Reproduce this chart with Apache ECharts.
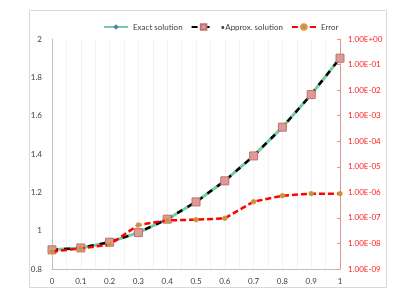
<!DOCTYPE html>
<html><head><meta charset="utf-8">
<script src="https://cdn.jsdelivr.net/npm/echarts@6/dist/echarts.min.js"></script>
<style>html,body{margin:0;padding:0;background:#fff}#c{width:406px;height:294px}</style>
</head><body><div id="c"></div>
<script>
var xValues = [0, 0.1, 0.2, 0.3, 0.4, 0.5, 0.6, 0.7, 0.8, 0.9, 1];
var exactValues = [0.90, 0.91, 0.94, 0.99, 1.06, 1.15, 1.26, 1.39, 1.54, 1.71, 1.90];
var approxValues = [0.90, 0.91, 0.94, 0.99, 1.06, 1.15, 1.26, 1.39, 1.54, 1.71, 1.90];
var errorValues = [4.8e-9, 6.4e-9, 9.0e-9, 5.3e-8, 8.0e-8, 8.5e-8, 9.6e-8, 4.3e-7, 7.4e-7, 8.9e-7, 8.9e-7];
var seriesNames = ['Exact solution', '\u2022Approx. solution', 'Error'];

function pairs(vals){ return xValues.map(function(x,i){ return [x, vals[i]]; }); }
function sci(v){
  var e = Math.round(Math.log10(v));
  var m = v / Math.pow(10, e);
  var s = e < 0 ? '-' : '+';
  var a = Math.abs(e);
  return m.toFixed(2) + 'E' + s + (a < 10 ? '0' : '') + a;
}
var font = 'Lato, "Open Sans", sans-serif';
var chart = echarts.init(document.getElementById('c'), null, {renderer:'canvas'});
chart.setOption({
  animation: false,
  backgroundColor: '#fff',
  textStyle: {fontFamily: font},
  graphic: [{type:'rect', shape:{x:29.5, y:10.5, width:357, height:277}, style:{fill:'none', stroke:'#d9d9d9', lineWidth:1}, silent:true}],
  legend: {
    top: 18, left: 98, itemWidth: 24, itemHeight: 7, itemGap: 8,
    textStyle: {fontSize: 8, color: '#404040', fontFamily: font},
    data: seriesNames
  },
  grid: {left: 52, right: 66, top: 39, bottom: 25},
  xAxis: {
    type: 'value', min: 0, max: 1, interval: 0.1,
    axisLine: {lineStyle: {color: '#bfbfbf'}},
    axisTick: {show: false},
    axisLabel: {fontSize: 8, color: '#404040', margin: 8, formatter: function(v){ return String(Math.round(v*10)/10); }},
    splitLine: {show: true, lineStyle: {color: '#f3f3f3'}},
    minorTick: {show: false, splitNumber: 2},
    minorSplitLine: {show: true, lineStyle: {color: '#f3f3f3'}}
  },
  yAxis: [{
    type: 'value', min: 0.8, max: 2, interval: 0.2,
    axisLine: {show: true, lineStyle: {color: '#bfbfbf'}},
    axisTick: {show: false},
    axisLabel: {fontSize: 8, color: '#404040', margin: 10, formatter: function(v){ return String(Math.round(v*10)/10); }},
    splitLine: {show: false}
  }, {
    type: 'log', logBase: 10, min: 1e-9, max: 1, interval: 1, position: 'right',
    axisLine: {show: true, lineStyle: {color: '#d99694'}},
    axisTick: {show: true, inside: true, length: 3, lineStyle: {color: '#d99694'}},
    axisLabel: {fontSize: 8, color: '#ff2020', margin: 8, formatter: sci},
    splitLine: {show: false}
  }],
  series: [{
    name: seriesNames[0], type: 'line', data: pairs(exactValues),
    lineStyle: {color: '#77cc9f', width: 3},
    itemStyle: {color: '#4f81bd'}, symbol: 'diamond', symbolSize: 6, z: 2
  }, {
    name: seriesNames[1], type: 'line', data: pairs(approxValues),
    lineStyle: {color: '#000', width: 2.5, type: [6, 6]},
    itemStyle: {color: '#dd9a98', borderColor: '#c0706e', borderWidth: 1},
    symbol: 'rect', symbolSize: 8, z: 3
  }, {
    name: seriesNames[2], type: 'line', yAxisIndex: 1, data: pairs(errorValues),
    lineStyle: {color: '#ff0000', width: 2.5, type: [6, 3]},
    itemStyle: {color: '#a8a040', borderColor: '#f09040', borderWidth: 1},
    symbol: 'circle', symbolSize: 4.5, z: 4
  }]
});
</script></body></html>
